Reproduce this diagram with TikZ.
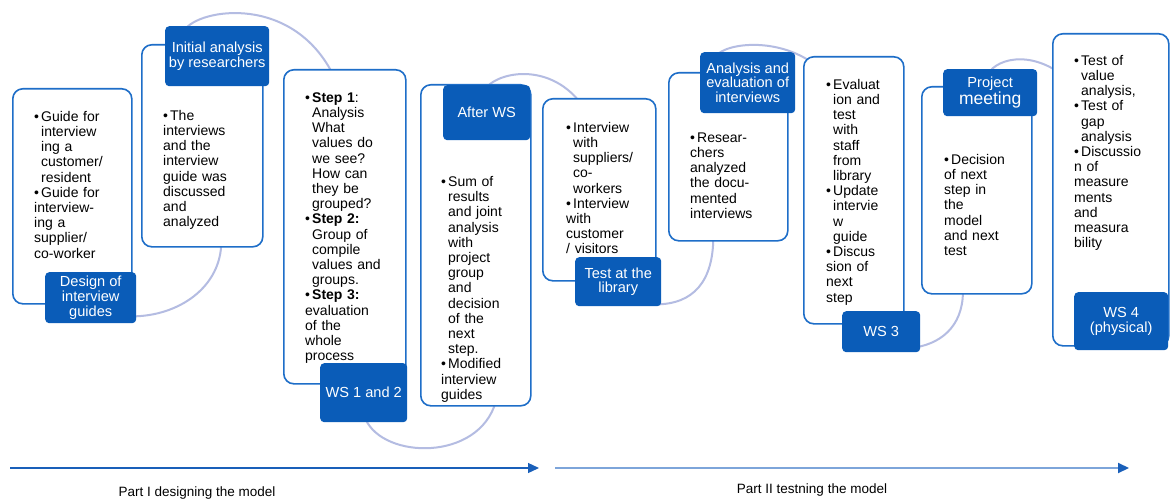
\documentclass[tikz,border=0pt]{standalone}
\usepackage{fontspec}
\setmainfont{Liberation Sans}
\usetikzlibrary{arrows.meta,backgrounds}

\definecolor{boxblue}{RGB}{30,110,200}
\definecolor{labblue}{RGB}{10,92,184}
\definecolor{arcblue}{RGB}{180,188,226}
\definecolor{partblue}{RGB}{125,165,218}
\definecolor{partdark}{RGB}{25,95,185}

\newcommand{\bitem}{\par\noindent\hangindent=7pt\hangafter=1\makebox[7pt][l]{\textbullet}}

\tikzset{
	stepbox/.style={draw=boxblue,line width=1.6pt,rounded corners=10pt,fill=white,anchor=north west,inner sep=0pt},
	steplab/.style={fill=labblue,text=white,rounded corners=4pt,anchor=north west,inner sep=0pt,align=center,font=\fontsize{14.6}{14.8}\selectfont},
	steptext/.style={anchor=north west,inner sep=0pt,text width=110pt,font=\fontsize{14}{15.2}\selectfont,execute at begin node={\let\\\newline}},
	link/.style={arcblue,line width=2pt},
	parttext/.style={font=\fontsize{13.5}{15}\selectfont}
}

\begin{document}
\begin{tikzpicture}[x=1pt,y=-1pt]

	\path[use as bounding box] (0,0) rectangle (1170,500);

	% Boxes
	\node[stepbox,minimum width=119,minimum height=215] (designbox) at (12,88) {};
	\node[stepbox,minimum width=121,minimum height=202] (initialbox) at (141,44) {};
	\node[stepbox,minimum width=122,minimum height=314] (wsonebox) at (283,69) {};
	\node[stepbox,minimum width=110,minimum height=321] (afterbox) at (420,84) {};
	\node[stepbox,minimum width=113,minimum height=182] (testbox) at (542,98) {};
	\node[stepbox,minimum width=119,minimum height=168] (analysisbox) at (668,72) {};
	\node[stepbox,minimum width=100,minimum height=267] (wsthreebox) at (803,56) {};
	\node[stepbox,minimum width=110,minimum height=207] (meetingbox) at (921,86) {};
	\node[stepbox,minimum width=116,minimum height=312] (wsfourbox) at (1052,33) {};

	% Texts
	\node[steptext] (designtext) at (34,106) {\bitem Guide for\\ interview\\ ing a\\ customer/\\ resident
		\bitem Guide for\\ interview-\\ ing a\\ supplier/\\ co-worker};
	\node[steptext] (initialtext) at (163,105) {\bitem The\\ interviews\\ and the\\ interview\\ guide was\\ discussed\\ and\\ analyzed};
	\node[steptext] (wsonetext) at (305,87) {\bitem \textbf{Step 1}:\\ Analysis\\ What\\ values do\\ we see?\\ How can\\ they be\\ grouped?
		\bitem \textbf{Step 2:}\\ Group of\\ compile\\ values and\\ groups.
		\bitem \textbf{Step 3:}\\ evaluation\\ of the\\ whole\\ process};
	\node[steptext] (aftertext) at (441,171) {\bitem Sum of\\ results\\ and joint\\ analysis\\ with\\ project\\ group\\ and\\ decision\\ of the\\ next\\ step.
		\bitem Modified\\ interview\\ guides};
	\node[steptext] (testtext) at (566,117) {\bitem Interview\\ with\\ suppliers/\\ co-\\ workers
		\bitem Interview\\ with\\ customer\\ / visitors};
	\node[steptext] (analysistext) at (690,127) {\bitem Resear-\\ chers\\ analyzed\\ the docu-\\ mented\\ interviews};
	\node[steptext] (wsthreetext) at (826,74) {\bitem Evaluat\\ ion and\\ test\\ with\\ staff\\ from\\ library
		\bitem Update\\ intervie\\ w\\ guide
		\bitem Discus\\ sion of\\ next\\ step};
	\node[steptext] (meetingtext) at (944,149) {\bitem Decision\\ of next\\ step in\\ the\\ model\\ and next\\ test};
	\node[steptext] (wsfourtext) at (1074,50) {\bitem Test of\\ value\\ analysis,
		\bitem Test of\\ gap\\ analysis
		\bitem Discussio\\ n of\\ measure\\ ments\\ and\\ measura\\ bility};

	%Label
	\node[steplab,minimum width=91,minimum height=51] (design) at (45,272) {Design of\\ interview\\ guides};
	\node[steplab,minimum width=104,minimum height=60] (initial) at (165,26) {Initial analysis\\ by researchers};
	\node[steplab,minimum width=87,minimum height=59] (wsone) at (320,363) {WS 1 and 2};
	\node[steplab,minimum width=87,minimum height=55] (after) at (443,85) {After WS};
	\node[steplab,minimum width=86,minimum height=49] (test) at (575,257) {Test at the\\ library};
	\node[steplab,minimum width=95,minimum height=61] (analysis) at (700,52) {Analysis and\\ evaluation of\\ interviews};
	\node[steplab,minimum width=78,minimum height=41] (wsthree) at (842,311) {WS 3};
	\node[steplab,minimum width=94,minimum height=47] (meeting) at (943,69) {Project\\ {\fontsize{17.5}{18}\selectfont meeting}};
	\node[steplab,minimum width=94,minimum height=58] (wsfour) at (1074,292) {WS 4\\ (physical)};

	%link
	\begin{scope}[on background layer]
		\fill[white] (0,0) rectangle (1170,500);
		\draw[link] ([xshift=-5pt,yshift=7pt]design.south east) .. controls +(48,0) and +(0,45) .. ([xshift=19pt,yshift=6pt]initialbox.south);
		\draw[link] ([xshift=-31pt,yshift=-2pt]initial.north) .. controls +(19,-21) and +(-37,-90) .. ([xshift=-7pt,yshift=-16pt]wsonebox.north);
		\draw[link] ([xshift=2pt,yshift=3pt]wsone.south) .. controls +(18,40) and +(-17,60) .. ([xshift=20pt,yshift=5pt]afterbox.south);
		\draw[link] ([yshift=-2pt]after.north) .. controls +(18,-19) and +(-27,-63) .. ([xshift=-6pt,yshift=-27pt]testbox.north);
		\draw[link] ([xshift=-6pt,yshift=2pt]test.south east) .. controls +(38,0) and +(0,45) .. ([xshift=-15pt,yshift=5pt]analysisbox.south);
		\draw[link] ([xshift=-30pt,yshift=-2pt]analysis.north) .. controls +(17,-14) and +(-33,-40) .. ([xshift=-25pt,yshift=-22pt]wsthreebox.north);
		\draw[link] ([xshift=-5pt,yshift=5pt]wsthree.south east) .. controls +(30,-5) and +(2,35) .. ([xshift=-14pt,yshift=8pt]meetingbox.south);
		\draw[link] ([yshift=-2pt]meeting.north) .. controls +(13,-16) and +(-35,-42) .. ([xshift=28pt,yshift=-59pt]wsfourbox.north west);
	\end{scope}

	% Parts
	\coordinate (partonestart) at (10,468);
	\coordinate (partoneend) at (539,468);
	\coordinate (parttwostart) at (555,468);
	\coordinate (parttwoend) at (1129,468);
	\draw[partdark,line width=1.3pt,-{Triangle[length=11pt,width=10pt]}] (partonestart) -- (partoneend);
	\draw[partblue,line width=2pt,-{Triangle[length=11pt,width=10pt,color=partdark]}] (parttwostart) -- (parttwoend);
	\node[parttext] (partone) at (197,493) {Part I designing the model};
	\node[parttext] (parttwo) at (812,490) {Part II testning the model};

\end{tikzpicture}
\end{document}
